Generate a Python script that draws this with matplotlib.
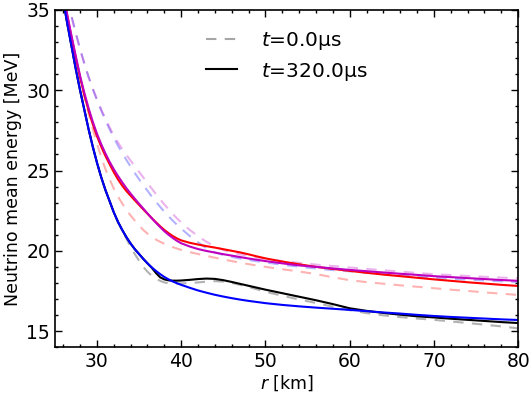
import matplotlib
matplotlib.use('Agg')
import matplotlib.pyplot as plt
from matplotlib.ticker import MultipleLocator

# radius grid [km]
r = [26, 26.5, 27, 27.5, 28, 28.5, 29, 29.5, 30, 30.5, 31, 31.5, 32, 32.5, 33, 33.5,
     34, 34.5, 35, 35.5, 36, 36.5, 37, 37.5, 38, 38.5, 39, 39.5, 40,
     41, 42, 43, 44, 45, 46, 47, 48, 49, 50,
     52, 54, 56, 58, 60, 62, 64, 66, 68, 70, 72, 74, 76, 78, 80]

# t = 0 (dashed)
e0_black = [35.6, 34.1, 32.7, 31.3, 30.0, 28.8, 27.6, 26.5, 25.5, 24.6, 23.8, 23.1, 22.4, 21.8, 21.3, 20.75,
            20.25, 19.8, 19.38, 19.0, 18.7, 18.45, 18.27, 18.13, 18.03, 17.98, 17.96, 17.96, 17.97,
            17.99, 18.03, 18.08, 18.11, 18.08, 18.0, 17.88, 17.75, 17.6, 17.45,
            17.2, 16.97, 16.75, 16.52, 16.3, 16.12, 15.98, 15.87, 15.78, 15.7, 15.6, 15.5, 15.4, 15.29, 15.17]
e0_red = [35.8, 34.5, 33.2, 31.95, 30.75, 29.62, 28.58, 27.6, 26.7, 25.85, 25.1, 24.45, 23.88, 23.38, 22.95, 22.55,
          22.2, 21.88, 21.58, 21.3, 21.07, 20.87, 20.7, 20.56, 20.44, 20.33, 20.23, 20.14, 20.06,
          19.92, 19.8, 19.68, 19.57, 19.46, 19.36, 19.26, 19.17, 19.08, 19.0,
          18.85, 18.71, 18.55, 18.35, 18.17, 18.05, 17.95, 17.85, 17.76, 17.67, 17.58, 17.5, 17.41, 17.33, 17.25]
e0_blue = [36.65, 35.6, 34.59, 33.57, 32.59, 31.69, 30.84, 30.09, 29.39, 28.75, 28.14, 27.58, 27.04, 26.55, 26.09, 25.66,
           25.24, 24.84, 24.46, 24.09, 23.74, 23.39, 23.06, 22.74, 22.44, 22.15, 21.88, 21.62, 21.38,
           20.93, 20.53, 20.17, 19.9, 19.74, 19.62, 19.52, 19.43, 19.35, 19.28,
           19.13, 19.01, 18.9, 18.8, 18.72, 18.63, 18.55, 18.47, 18.39, 18.32, 18.26, 18.2, 18.15, 18.1, 18.06]
e0_magenta = [36.7, 35.6, 34.54, 33.5, 32.54, 31.65, 30.84, 30.12, 29.44, 28.82, 28.24, 27.7, 27.19, 26.75, 26.34, 25.97,
              25.62, 25.27, 24.92, 24.57, 24.22, 23.88, 23.54, 23.21, 22.89, 22.58, 22.29, 22.02, 21.77,
              21.31, 20.91, 20.56, 20.27, 20.05, 19.9, 19.78, 19.68, 19.58, 19.49,
              19.36, 19.25, 19.14, 19.05, 18.96, 18.87, 18.79, 18.7, 18.62, 18.54, 18.49, 18.43, 18.38, 18.33, 18.29]

# t = 320 us (solid)
e1_black = [35.6, 34.1, 32.7, 31.3, 30.0, 28.8, 27.6, 26.5, 25.5, 24.6, 23.8, 23.1, 22.4, 21.8, 21.3, 20.85,
            20.45, 20.1, 19.8, 19.5, 19.22, 18.95, 18.62, 18.35, 18.22, 18.16, 18.14, 18.14, 18.15,
            18.19, 18.24, 18.27, 18.25, 18.17, 18.06, 17.94, 17.82, 17.7, 17.58,
            17.36, 17.14, 16.92, 16.68, 16.42, 16.26, 16.13, 16.02, 15.92, 15.85, 15.77, 15.7, 15.63, 15.56, 15.5]
e1_red = [35.9, 34.55, 33.25, 32.0, 30.8, 29.72, 28.75, 27.9, 27.15, 26.5, 25.92, 25.4, 24.9, 24.45, 24.06, 23.72,
          23.43, 23.14, 22.86, 22.58, 22.31, 22.04, 21.78, 21.53, 21.3, 21.1, 20.92, 20.77, 20.65,
          20.5, 20.39, 20.29, 20.2, 20.1, 20.0, 19.9, 19.78, 19.65, 19.53,
          19.33, 19.16, 19.0, 18.87, 18.75, 18.63, 18.52, 18.42, 18.32, 18.22, 18.13, 18.04, 17.96, 17.88, 17.81]
e1_blue = [35.6, 34.1, 32.7, 31.3, 30.0, 28.8, 27.6, 26.5, 25.5, 24.6, 23.8, 23.1, 22.4, 21.8, 21.3, 20.85,
           20.45, 20.1, 19.8, 19.5, 19.22, 18.97, 18.75, 18.55, 18.37, 18.22, 18.09, 17.98, 17.88,
           17.7, 17.53, 17.39, 17.26, 17.15, 17.05, 16.96, 16.88, 16.81, 16.74,
           16.63, 16.54, 16.46, 16.39, 16.32, 16.24, 16.16, 16.09, 16.01, 15.94, 15.88, 15.83, 15.78, 15.73, 15.69]
e1_magenta = [36.0, 34.65, 33.35, 32.1, 30.9, 29.85, 28.9, 28.05, 27.3, 26.65, 26.07, 25.55, 25.08, 24.66, 24.27, 23.9,
              23.56, 23.24, 22.93, 22.63, 22.33, 22.03, 21.75, 21.48, 21.22, 21.0, 20.8, 20.62, 20.47,
              20.27, 20.11, 19.99, 19.89, 19.79, 19.7, 19.61, 19.52, 19.44, 19.36,
              19.22, 19.09, 19.0, 18.9, 18.81, 18.73, 18.65, 18.57, 18.5, 18.42, 18.36, 18.3, 18.24, 18.18, 18.13]

plt.rcParams['font.family'] = ['DejaVu Sans']
plt.rcParams['mathtext.fontset'] = 'dejavusans'

fig = plt.figure(figsize=(5.32, 3.99), dpi=100)
ax = fig.add_axes([0.103, 0.130, 0.871, 0.845])

dash = (0, (5, 4))
ax.plot(r, e0_black, color='k', ls=dash, lw=1.5, alpha=0.3)
ax.plot(r, e0_red, color='r', ls=dash, lw=1.5, alpha=0.3)
ax.plot(r, e0_blue, color='b', ls=dash, lw=1.5, alpha=0.3)
ax.plot(r, e0_magenta, color='m', ls=dash, lw=1.5, alpha=0.3)

ax.plot(r, e1_black, color='k', lw=1.5)
ax.plot(r, e1_red, color='r', lw=1.5)
ax.plot(r, e1_magenta, color='m', lw=1.5)
ax.plot(r, e1_blue, color='b', lw=1.5)

# legend proxies
h0, = ax.plot([], [], color='k', ls=dash, lw=1.5, alpha=0.35)
h1, = ax.plot([], [], color='k', lw=1.5)
ax.legend([h0, h1], ['$t$=0.0μs', '$t$=320.0μs'], loc='upper left',
          bbox_to_anchor=(0.287, 0.993), frameon=False, fontsize=14.5,
          handlelength=1.55, handletextpad=1.2, labelspacing=0.4)

ax.set_xlim(25, 80)
ax.set_ylim(14, 35)
ax.xaxis.set_major_locator(MultipleLocator(10))
ax.xaxis.set_minor_locator(MultipleLocator(2))
ax.yaxis.set_major_locator(MultipleLocator(5))
ax.yaxis.set_minor_locator(MultipleLocator(1))
ax.tick_params(which='both', direction='in', top=True, right=True, labelsize=13.5)
ax.tick_params(which='major', length=5, width=1)
ax.tick_params(which='minor', length=2.5, width=1)
for s in ax.spines.values():
    s.set_linewidth(1.2)

ax.set_xlabel('$r$ [km]', fontsize=12.5, labelpad=2)
ax.set_ylabel('Neutrino mean energy [MeV]', fontsize=12.5, labelpad=3)

fig.savefig('out.png', dpi=100)
